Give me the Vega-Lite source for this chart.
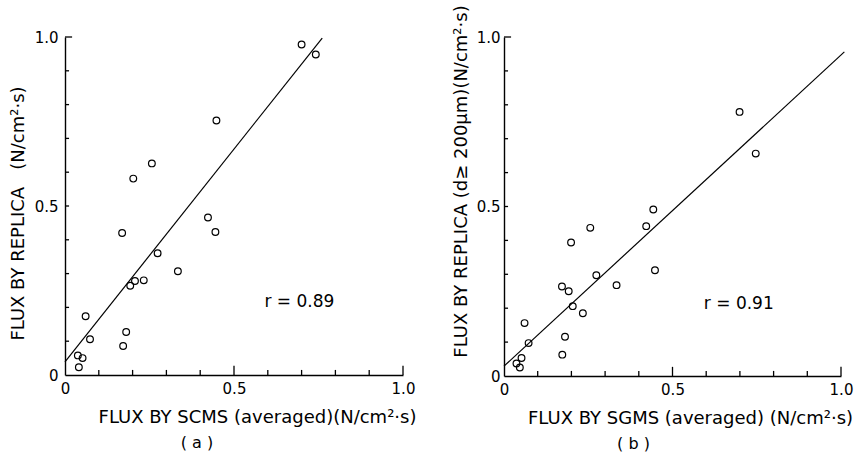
{
  "$schema": "https://vega.github.io/schema/vega-lite/v6.json",
  "padding": {"left": 9, "top": 4, "right": 5, "bottom": 2},
  "background": "white",
  "datasets": {
    "a": [
      {"x": 0.700, "y": 0.978}, {"x": 0.742, "y": 0.948}, {"x": 0.448, "y": 0.753},
      {"x": 0.257, "y": 0.626}, {"x": 0.202, "y": 0.581}, {"x": 0.423, "y": 0.466},
      {"x": 0.445, "y": 0.423}, {"x": 0.169, "y": 0.420}, {"x": 0.274, "y": 0.360},
      {"x": 0.334, "y": 0.307}, {"x": 0.207, "y": 0.278}, {"x": 0.233, "y": 0.280},
      {"x": 0.193, "y": 0.264}, {"x": 0.061, "y": 0.174}, {"x": 0.181, "y": 0.127},
      {"x": 0.074, "y": 0.106}, {"x": 0.172, "y": 0.086}, {"x": 0.038, "y": 0.058},
      {"x": 0.052, "y": 0.050}, {"x": 0.041, "y": 0.023}
    ],
    "b": [
      {"x": 0.699, "y": 0.779}, {"x": 0.747, "y": 0.656}, {"x": 0.443, "y": 0.491},
      {"x": 0.422, "y": 0.442}, {"x": 0.256, "y": 0.437}, {"x": 0.199, "y": 0.394},
      {"x": 0.448, "y": 0.312}, {"x": 0.274, "y": 0.297}, {"x": 0.334, "y": 0.268},
      {"x": 0.172, "y": 0.264}, {"x": 0.192, "y": 0.250}, {"x": 0.204, "y": 0.206},
      {"x": 0.234, "y": 0.185}, {"x": 0.061, "y": 0.156}, {"x": 0.073, "y": 0.097},
      {"x": 0.181, "y": 0.116}, {"x": 0.173, "y": 0.063}, {"x": 0.037, "y": 0.037},
      {"x": 0.052, "y": 0.053}, {"x": 0.047, "y": 0.025}
    ],
    "lineA": [{"x": 0.0, "y": 0.039}, {"x": 0.761, "y": 0.997}],
    "lineB": [{"x": 0.0, "y": 0.029}, {"x": 1.01, "y": 0.956}],
    "rA": [{"x": 0.59, "y": 0.216, "label": "r = 0.89"}],
    "rB": [{"x": 0.593, "y": 0.212, "label": "r = 0.91"}],
    "ticks": [
      {"k": "x1", "x": 0.1, "y": 0}, {"k": "x1", "x": 0.1, "y": 0.015},
      {"k": "x2", "x": 0.2, "y": 0}, {"k": "x2", "x": 0.2, "y": 0.015},
      {"k": "x3", "x": 0.3, "y": 0}, {"k": "x3", "x": 0.3, "y": 0.015},
      {"k": "x4", "x": 0.4, "y": 0}, {"k": "x4", "x": 0.4, "y": 0.015},
      {"k": "x5", "x": 0.5, "y": 0}, {"k": "x5", "x": 0.5, "y": 0.027},
      {"k": "x6", "x": 0.6, "y": 0}, {"k": "x6", "x": 0.6, "y": 0.015},
      {"k": "x7", "x": 0.7, "y": 0}, {"k": "x7", "x": 0.7, "y": 0.015},
      {"k": "x8", "x": 0.8, "y": 0}, {"k": "x8", "x": 0.8, "y": 0.015},
      {"k": "x9", "x": 0.9, "y": 0}, {"k": "x9", "x": 0.9, "y": 0.015},
      {"k": "x10", "x": 1.0, "y": 0}, {"k": "x10", "x": 1.0, "y": 0.027},
      {"k": "y1", "x": 0, "y": 0.1}, {"k": "y1", "x": 0.012, "y": 0.1},
      {"k": "y2", "x": 0, "y": 0.2}, {"k": "y2", "x": 0.012, "y": 0.2},
      {"k": "y3", "x": 0, "y": 0.3}, {"k": "y3", "x": 0.012, "y": 0.3},
      {"k": "y4", "x": 0, "y": 0.4}, {"k": "y4", "x": 0.012, "y": 0.4},
      {"k": "y5", "x": 0, "y": 0.5}, {"k": "y5", "x": 0.012, "y": 0.5},
      {"k": "y6", "x": 0, "y": 0.6}, {"k": "y6", "x": 0.012, "y": 0.6},
      {"k": "y7", "x": 0, "y": 0.7}, {"k": "y7", "x": 0.012, "y": 0.7},
      {"k": "y8", "x": 0, "y": 0.8}, {"k": "y8", "x": 0.012, "y": 0.8},
      {"k": "y9", "x": 0, "y": 0.9}, {"k": "y9", "x": 0.012, "y": 0.9},
      {"k": "y10", "x": 0, "y": 1.0}, {"k": "y10", "x": 0.021, "y": 1.0}
    ]
  },
  "config": {
    "view": {"stroke": null},
    "font": "DejaVu Sans",
    "axis": {
      "domainColor": "black",
      "domainWidth": 1.4,
      "ticks": false,
      "labelColor": "black",
      "titleColor": "black",
      "labelFont": "DejaVu Sans",
      "labelFontSize": 15,
      "titleFont": "DejaVu Sans",
      "titleFontSize": 18,
      "titleFontWeight": "normal",
      "labelOverlap": false,
      "labelFlush": false,
      "grid": false
    },
    "title": {"font": "DejaVu Sans", "fontSize": 16, "fontWeight": "normal", "color": "black"}
  },
  "hconcat": [
    {
      "width": 338,
      "height": 338,
      "title": {"text": "( a )", "orient": "bottom", "anchor": "middle", "dx": -37, "offset": 9},
      "encoding": {
        "x": {"field": "x", "type": "quantitative", "scale": {"domain": [0, 1], "nice": false},
          "axis": {
            "title": "FLUX BY SCMS (averaged)(N/cm²·s)",
            "values": [0, 0.5, 1],
            "labelExpr": "datum.value == 0 ? '0' : abs(datum.value - 0.5) < 0.001 ? '0.5' : '1.0'",
            "labelPadding": 6,
            "titleX": 192, "titleY": 42, "titleBaseline": "middle", "titleAlign": "center"
          }},
        "y": {"field": "y", "type": "quantitative", "scale": {"domain": [0, 1], "nice": false},
          "axis": {
            "title": "FLUX BY REPLICA\u00a0\u00a0\u00a0(N/cm²·s)",
            "values": [0, 0.5, 1],
            "labelExpr": "datum.value == 0 ? '0' : abs(datum.value - 0.5) < 0.001 ? '0.5' : '1.0'",
            "labelPadding": 7,
            "titleX": -47, "titleY": 176, "titleBaseline": "middle", "titleAlign": "center"
          }}
      },
      "layer": [
        {"data": {"name": "a"}, "mark": {"type": "point", "shape": "circle", "filled": false, "color": "black", "strokeWidth": 1.2, "size": 45, "opacity": 1}},
        {"data": {"name": "ticks"}, "mark": {"type": "line", "color": "black", "strokeWidth": 1.3}, "encoding": {"detail": {"field": "k"}}},
        {"data": {"name": "lineA"}, "mark": {"type": "line", "color": "black", "strokeWidth": 1.2}},
        {
          "data": {"name": "rA"},
          "mark": {"type": "text", "align": "left", "baseline": "middle", "fontSize": 17, "font": "DejaVu Sans", "color": "black"},
          "encoding": {"text": {"field": "label"}}
        }
      ]
    },
    {
      "width": 337,
      "height": 339,
      "title": {"text": "( b )", "orient": "bottom", "anchor": "middle", "dx": -39, "offset": 9},
      "encoding": {
        "x": {"field": "x", "type": "quantitative", "scale": {"domain": [0, 1], "nice": false},
          "axis": {
            "title": "FLUX BY SGMS (averaged) (N/cm²·s)",
            "values": [0, 0.5, 1],
            "labelExpr": "datum.value == 0 ? '0' : abs(datum.value - 0.5) < 0.001 ? '0.5' : '1.0'",
            "labelPadding": 6,
            "titleX": 186, "titleY": 42, "titleBaseline": "middle", "titleAlign": "center"
          }},
        "y": {"field": "y", "type": "quantitative", "scale": {"domain": [0, 1], "nice": false},
          "axis": {
            "title": "FLUX BY REPLICA (d≥ 200μm)(N/cm²·s)",
            "values": [0, 0.5, 1],
            "labelExpr": "datum.value == 0 ? '0' : abs(datum.value - 0.5) < 0.001 ? '0.5' : '1.0'",
            "labelPadding": 4,
            "titleX": -43, "titleY": 144, "titleBaseline": "middle", "titleAlign": "center"
          }}
      },
      "layer": [
        {"data": {"name": "b"}, "mark": {"type": "point", "shape": "circle", "filled": false, "color": "black", "strokeWidth": 1.2, "size": 45, "opacity": 1}},
        {"data": {"name": "ticks"}, "mark": {"type": "line", "color": "black", "strokeWidth": 1.3}, "encoding": {"detail": {"field": "k"}}},
        {"data": {"name": "lineB"}, "mark": {"type": "line", "color": "black", "strokeWidth": 1.2}},
        {
          "data": {"name": "rB"},
          "mark": {"type": "text", "align": "left", "baseline": "middle", "fontSize": 17, "font": "DejaVu Sans", "color": "black"},
          "encoding": {"text": {"field": "label"}}
        }
      ]
    }
  ],
  "spacing": 36
}
